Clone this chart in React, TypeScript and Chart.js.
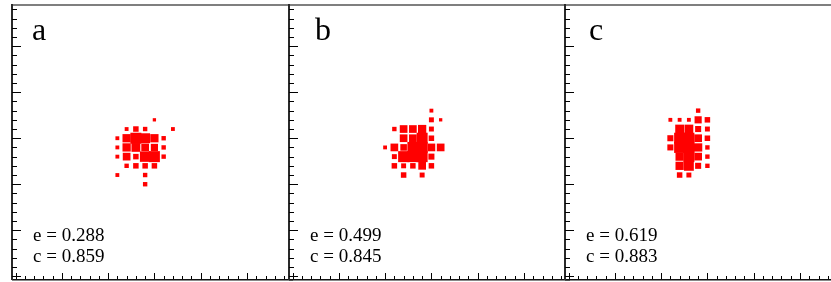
import React, { useEffect, useRef } from "react";
import { Chart, registerables } from "chart.js";
Chart.register(...registerables);

// Panel labels and statistics
const panelNames = ["a", "b", "c"];
const eValues = ["0.288", "0.499", "0.619"];
const cValues = ["0.859", "0.845", "0.883"];

// Panel a: grid columns, rows and marker weights
const xA = [15, 12, 13, 14, 17, 11, 12, 13, 14, 15, 16, 11, 12, 13, 14, 15, 16, 11, 12, 13, 14, 15, 16, 12, 13, 14, 15, 11, 14, 14];
const yA = [17, 16, 16, 16, 16, 15, 15, 15, 15, 15, 15, 14, 14, 14, 14, 14, 14, 13, 13, 13, 13, 13, 13, 12, 12, 12, 12, 11, 11, 10];
const wA = [3, 3.5, 5, 4, 3.5, 3.5, 7.5, 10, 9, 7.5, 4, 3.5, 7.5, 8, 7, 6.5, 4, 3.5, 7, 5, 9.5, 10, 4, 4, 5, 5, 5, 3.5, 4, 4];

// Panel b
const xB = [15, 15, 16, 11, 12, 13, 14, 15, 12, 13, 14, 15, 10, 11, 12, 13, 14, 15, 16, 11, 12, 13, 14, 15, 11, 12, 13, 14, 15, 12, 14];
const yB = [18, 17, 17, 16, 16, 16, 16, 16, 15, 15, 15, 15, 14, 14, 14, 14, 14, 14, 14, 13, 13, 13, 13, 13, 12, 12, 12, 12, 12, 11, 11];
const wB = [3.5, 4.5, 3, 4, 7, 7, 7.5, 4.5, 7, 7, 10, 5, 3.5, 7, 6, 10, 10, 7, 7, 4.5, 10, 10, 10, 5.5, 5, 4.5, 5, 7, 5, 5, 4.5];

// Panel c
const xC = [14, 11, 12, 13, 14, 15, 12, 13, 14, 15, 11, 12, 13, 14, 15, 11, 12, 13, 14, 15, 12, 13, 14, 15, 12, 13, 14, 15, 12, 13];
const yC = [18, 17, 17, 17, 17, 17, 16, 16, 16, 16, 15, 15, 15, 15, 15, 14, 14, 14, 14, 14, 13, 13, 13, 13, 12, 12, 12, 12, 11, 11];
const wC = [4, 3.5, 3.5, 3.5, 6.5, 5, 8, 8, 5.5, 4.5, 5.5, 10, 10, 7, 5, 5.5, 10, 10, 7.5, 4, 7.5, 10, 7, 4, 7.5, 9, 5.5, 4, 5, 4.5];

const panelX = [xA, xB, xC];
const panelY = [yA, yB, yC];
const panelW = [wA, wB, wC];

// layout (page pixels)
const PANEL_LEFT = [12, 289, 565];
const PANEL_W = 277;
const PAD_L = 4;
const PAD_R = 4;
const PAD_T = 5;
const PAD_B = 2;
const CANVAS_H = 282;
const LABEL_OFFSET = [20, 26, 24];
const MARK_SCALE = 1.1;
const SERIF = '"Liberation Serif", "Times New Roman", "DejaVu Serif", serif';

const X_MIN = -0.378;
const X_MAX = X_MIN + PANEL_W / 9.26;
const Y_MIN = -0.41;
const Y_MAX = Y_MIN + 275 / 9.2;

function makeFrame(idx: number) {
  return {
    id: "frame" + idx,
    afterDraw(chart: any) {
      const ctx = chart.ctx;
      const { left, right, top, bottom } = chart.chartArea;
      const xs = chart.scales.x;
      const ys = chart.scales.y;
      ctx.save();
      // top border
      ctx.fillStyle = "#7f7f7f";
      ctx.fillRect(left - 1, top - 1, right - left + 5, 2);
      // bottom border
      ctx.fillStyle = "#111";
      ctx.fillRect(left, bottom - 1, right - left + 5, 1.5);
      // left border
      ctx.fillStyle = "#2a2a2a";
      ctx.fillRect(left - 1, top - 1, 2, bottom - top + 1);
      // ticks
      ctx.strokeStyle = "#000";
      ctx.lineWidth = 1;
      ctx.beginPath();
      for (let v = Math.ceil(Y_MIN); v <= Math.floor(Y_MAX); v++) {
        const py = Math.round(ys.getPixelForValue(v)) + 0.5;
        const len = v % 5 === 0 ? 9 : 5;
        ctx.moveTo(left, py);
        ctx.lineTo(left + len, py);
      }
      for (let v = Math.ceil(X_MIN); v <= Math.floor(X_MAX); v++) {
        const px = Math.round(xs.getPixelForValue(v)) + 0.5;
        const len = v % 5 === 0 ? 6 : 3;
        ctx.moveTo(px, bottom - 1);
        ctx.lineTo(px, bottom - 1 - len);
      }
      ctx.stroke();
      // texts
      ctx.fillStyle = "#000";
      ctx.textBaseline = "alphabetic";
      ctx.textAlign = "left";
      ctx.font = "32px " + SERIF;
      ctx.fillText(panelNames[idx], left + LABEL_OFFSET[idx], 40);
      ctx.font = "19px " + SERIF;
      ctx.fillText("e = " + eValues[idx], left + 21, 240.5);
      ctx.fillText("c = " + cValues[idx], left + 21, 261.5);
      ctx.restore();
    },
  };
}

function Panel({ idx }: { idx: number }) {
  const ref = useRef<HTMLCanvasElement | null>(null);
  useEffect(() => {
    if (!ref.current) return;
    const xs = panelX[idx];
    const ysv = panelY[idx];
    const ws = panelW[idx];
    const data = xs.map((x, i) => ({ x, y: ysv[i] }));
    const chart = new Chart(ref.current, {
      type: "scatter",
      data: {
        datasets: [
          {
            data,
            pointStyle: "rect",
            pointRadius: ws.map((w) => (w * MARK_SCALE) / Math.SQRT2),
            backgroundColor: "#ff0000",
            borderWidth: 0,
          } as any,
        ],
      },
      options: {
        animation: false,
        responsive: false,
        devicePixelRatio: 1,
        layout: {
          autoPadding: false,
          padding: { left: PAD_L, right: PAD_R, top: PAD_T, bottom: PAD_B },
        },
        plugins: { legend: { display: false }, tooltip: { enabled: false } },
        scales: {
          x: { type: "linear", min: X_MIN, max: X_MAX, display: false },
          y: { type: "linear", min: Y_MIN, max: Y_MAX, display: false },
        },
      },
      plugins: [makeFrame(idx)],
    });
    return () => chart.destroy();
  }, [idx]);
  return (
    <canvas
      ref={ref}
      width={PANEL_W + PAD_L + PAD_R}
      height={CANVAS_H}
      style={{
        position: "absolute",
        left: PANEL_LEFT[idx] - PAD_L,
        top: 0,
        width: PANEL_W + PAD_L + PAD_R,
        height: CANVAS_H,
      }}
    />
  );
}

export default function App() {
  return (
    <div
      style={{
        position: "absolute",
        left: 0,
        top: 0,
        width: 831,
        height: 282,
        overflow: "hidden",
        background: "#fff",
      }}
    >
      <Panel idx={0} />
      <Panel idx={1} />
      <Panel idx={2} />
    </div>
  );
}
